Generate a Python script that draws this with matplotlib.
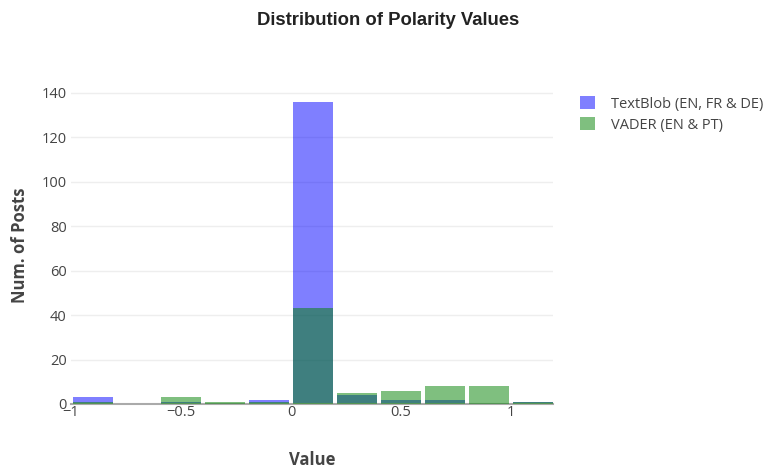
import matplotlib.pyplot as plt
import numpy as np

# histogram bins (width 0.2) and counts per bin
bin_left = [-1.0, -0.8, -0.6, -0.4, -0.2, 0.0, 0.2, 0.4, 0.6, 0.8, 1.0]
textblob = [3, 0, 1, 0, 2, 136, 4, 2, 2, 0, 1]
vader = [1, 0, 3, 1, 1, 43, 5, 6, 8, 8, 1]

bin_w = 0.2
centers = np.array(bin_left) + bin_w / 2

fig = plt.figure(figsize=(7.76, 4.68), dpi=100)
ax = fig.add_axes([0.0915, 0.1368, 0.621, 0.679])

ax.bar(centers, textblob, width=bin_w * 0.9, color=(0, 0, 1), alpha=0.5,
       label='TextBlob (EN, FR & DE)', zorder=2)
ax.bar(centers, vader, width=bin_w * 0.9, color=(0, 0.502, 0), alpha=0.5,
       label='VADER (EN & PT)', zorder=3)

ax.set_xlim(-1, 1.19)
ax.set_ylim(0, 143)
ax.set_yticks(range(0, 141, 20))
ax.set_xticks([-1, -0.5, 0, 0.5, 1])
ax.set_xticklabels(['\u22121', '\u22120.5', '0', '0.5', '1'])
ax.grid(axis='y', color='#eeeeee', linewidth=1, zorder=0)
ax.set_axisbelow(True)
for s in ['top', 'right', 'left']:
    ax.spines[s].set_visible(False)
ax.spines['bottom'].set_color('#aaaaaa')
ax.spines['bottom'].set_linewidth(1.5)
ax.tick_params(length=0, labelsize=10.5, labelcolor='#444444', pad=3)
ax.tick_params(axis='x', pad=1)
for lab in ax.get_xticklabels() + ax.get_yticklabels():
    lab.set_family('Open Sans')

ax.set_ylabel('Num. of Posts', fontsize=12, fontweight='bold', color='#444444',
              family='Open Sans', labelpad=9)
ax.set_xlabel('Value', fontsize=12, fontweight='bold', color='#444444',
              family='Open Sans', labelpad=22)

fig.suptitle('Distribution of Polarity Values', x=0.5, y=0.975, fontsize=13.3,
             fontweight='bold', family='Liberation Sans', color='#222222')

leg = fig.legend(loc='upper left', bbox_to_anchor=(0.731, 0.822), frameon=False,
                 prop={'family': 'Open Sans', 'size': 10.5}, handlelength=1.0,
                 handleheight=1.0, labelspacing=0.35, handletextpad=1.1)
for t in leg.get_texts():
    t.set_color('#444444')

fig.savefig('out.png', dpi=100)
